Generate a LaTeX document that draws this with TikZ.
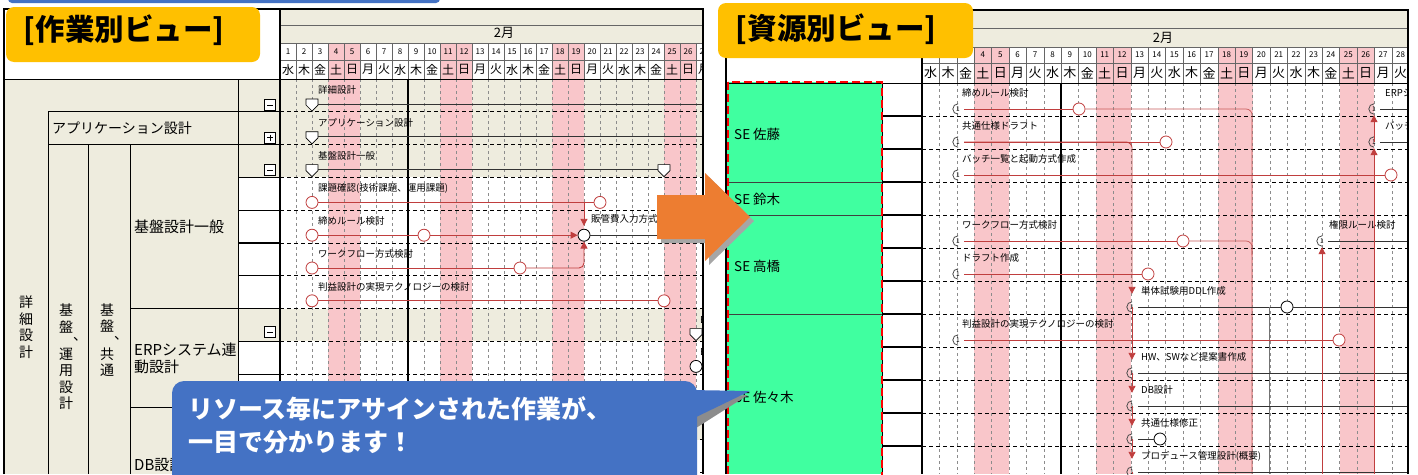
\documentclass[tikz,border=0pt]{standalone}
\usepackage{fontspec}
\setmainfont{Noto Sans CJK JP}
\usetikzlibrary{arrows.meta,calc}
\definecolor{cream}{RGB}{238,236,222}
\definecolor{pinkc}{RGB}{249,198,202}
\definecolor{barred}{RGB}{192,62,62}
\definecolor{lblorange}{RGB}{255,192,0}
\definecolor{arrorange}{RGB}{237,125,49}
\definecolor{callblue}{RGB}{68,114,196}
\definecolor{resgreen}{RGB}{64,255,160}
\newcommand{\smark}[1]{\draw[fill=white,line width=0.7pt,shift={(#1)}] (-6,-5) -- (6,-5) -- (6,1) -- (0,7) -- (-6,1) -- cycle;}
\newcommand{\vcomma}{\makebox[0pt][l]{\raisebox{-8pt}{、}}}
\def\wdlist{1/水,2/木,3/金,4/土,5/日,6/月,7/火,8/水,9/木,10/金,11/土,12/日,13/月,14/火,15/水,16/木,17/金,18/土,19/日,20/月,21/火,22/水,23/木,24/金,25/土,26/日,27/月,28/火}
\tikzset{
  lbl/.style={anchor=west, inner sep=0pt, font=\fontsize{9.5}{10}\selectfont},
  redc/.style={circle, draw=barred, fill=white, line width=0.8pt, minimum size=12pt, inner sep=0pt},
  blkc/.style={circle, draw=black, fill=white, line width=0.8pt, minimum size=12pt, inner sep=0pt},
  startr/.style={circle, minimum size=12pt, inner sep=0pt, font=\fontsize{6.5}{6.5}\selectfont,
    path picture={\clip (path picture bounding box.south west) rectangle (path picture bounding box.north);
      \draw[black!70, line width=0.8pt] (path picture bounding box.center) circle[radius=5.2pt];}},
  rbar/.style={barred, line width=0.9pt},
  kbar/.style={black!80, line width=0.9pt},
  conn/.style={barred, line width=0.9pt, -{Triangle[width=7pt,length=7pt]}},
  rowdash/.style={black, line width=0.7pt, dash pattern=on 4pt off 3pt},
  daydash/.style={black!45, line width=0.4pt, dash pattern=on 3pt off 3pt},
  hdrline/.style={black!60, line width=0.5pt},
  dnum/.style={inner sep=0pt, font=\fontsize{8}{8}\selectfont},
  wd/.style={inner sep=0pt, font=\fontsize{12}{12}\selectfont},
  vt/.style={align=center, inner sep=0pt, font=\fontsize{14}{16.5}\selectfont},
  side/.style={anchor=west, inner sep=0pt, font=\fontsize{14}{18}\selectfont},
  sename/.style={anchor=west, inner sep=0pt, font=\fontsize{13.5}{16}\selectfont},
  expm/.style={draw, fill=white, line width=0.6pt, minimum size=11pt, inner sep=0pt,
    path picture={\draw[line width=0.7pt] ([xshift=2.5pt]path picture bounding box.west) -- ([xshift=-2.5pt]path picture bounding box.east);}},
  expp/.style={draw, fill=white, line width=0.6pt, minimum size=11pt, inner sep=0pt,
    path picture={\draw[line width=0.7pt] ([xshift=2.5pt]path picture bounding box.west) -- ([xshift=-2.5pt]path picture bounding box.east);
      \draw[line width=0.7pt] ([yshift=-2.5pt]path picture bounding box.north) -- ([yshift=2.5pt]path picture bounding box.south);}},
  titbox/.style={fill=lblorange, rounded corners=8pt},
  tittext/.style={inner sep=0pt, font=\fontsize{29.5}{30}\bfseries},
}
\begin{document}
\begin{tikzpicture}[x=1pt,y=-1pt]
\useasboundingbox (0,0) rectangle (1418,474);
\fill[white] (0,0) rectangle (1418,474);
% top blue bar
\fill[callblue, rounded corners=4pt] (8,-12) rectangle (440,3);

% ================= LEFT VIEW =================
\fill[cream] (280,9) rectangle (703,43);
\fill[cream] (4,79) rectangle (238,474);
\foreach \k in {0,1,2,7,10} \fill[cream] (238,{79+32.8*\k}) rectangle (703,{79+32.8*(\k+1)});
\begin{scope}
\clip (280,9) rectangle (703,474);
\foreach \d in {4,5,11,12,18,19,25,26} \fill[pinkc] ({280+16*(\d-1)},43) rectangle ({280+16*\d},474);
\foreach \k in {1,...,26} \draw[daydash] ({280+16*\k},79) -- ({280+16*\k},474);
\foreach \k in {1,...,26} \draw[hdrline] ({280+16*\k},43) -- ({280+16*\k},79);
\draw[hdrline] (280,25) -- (703,25) (280,43) -- (703,43) (280,60) -- (703,60);
\foreach \k in {1,...,12} \draw[rowdash] (280,{79+32.8*\k}) -- (703,{79+32.8*\k});
\draw[line width=1.5pt] (408,79) -- (408,474);
\node[font=\fontsize{13}{13}\selectfont, inner sep=0pt] (monL) at (504,33) {2月};
\foreach \d in {1,...,27} \node[dnum] at ({280+16*(\d-0.5)},51.5) {\d};
\foreach \d/\w in \wdlist \node[wd] at ({280+16*(\d-0.5)},69.5) {\w};
% row 0
\coordinate (m0) at (312,104); \coordinate (xl0) at (703,104);
\draw[kbar] (m0) -- (xl0); \smark{m0}
\node[lbl] (tl0) at (318,90) {詳細設計};
% row 1
\coordinate (m1) at (312,136.8); \coordinate (xl1) at (703,136.8);
\draw[kbar] (m1) -- (xl1); \smark{m1}
\node[lbl] (tl1) at (318,122.8) {アプリケーション設計};
% row 2
\coordinate (m2) at (312,169.6); \coordinate (m2e) at (664,169.6);
\draw[kbar] (m2) -- (m2e); \smark{m2} \smark{m2e}
\node[lbl] (tl2) at (318,155.6) {基盤設計一般};
% row 3
\node[lbl] (tl3) at (318,188.4) {課題確認(技術課題、運用課題)};
\node[redc] (a3s) at (312,202.4) {};
\node[redc] (a3e) at (600,202.4) {};
\draw[rbar] (a3s) -- (a3e);
% row 4
\node[lbl] (tl4) at (318,221.2) {締めルール検討};
\node[redc] (a4s) at (312,235.2) {};
\node[redc] (a4e) at (424,235.2) {};
\node[blkc] (ms1) at (584,235.2) {};
\coordinate (xl4) at (703,235.2);
\draw[rbar] (a4s) -- (a4e);
\draw[conn] (a4e) -- (ms1);
\draw[conn, shorten >=3pt] (a3s -| ms1) -- (ms1.north);
\draw[kbar] (ms1) -- (xl4);
\node[lbl] (tl4b) at (591,219) {販管費入力方式};
% row 5
\node[lbl] (tl5) at (318,254) {ワークフロー方式検討};
\node[redc] (a5s) at (312,268) {};
\node[redc] (a5e) at (520,268) {};
\draw[rbar] (a5s) -- (a5e);
\draw[conn, rounded corners=5pt] (a5e.east) -- (ms1 |- a5e) -- (ms1.south);
% row 6
\node[lbl] (tl6) at (318,286.8) {判益設計の実現テクノロジーの検討};
\node[redc] (a6s) at (312,300.8) {};
\node[redc] (a6e) at (664,300.8) {};
\draw[rbar] (a6s) -- (a6e);
% row 7, 8
\coordinate (m7) at (696,333.6); \smark{m7}
\node[lbl] (tl7) at (700,319.6) {ERP};
\node[blkc] (ms8) at (696,366.4) {};
\node[lbl] (tl8) at (700,352.4) {ERP};
\end{scope}
% left label grid
\draw[line width=0.8pt] (48,111.8) -- (48,474) (88,144.6) -- (88,474) (130,144.6) -- (130,474) (238,79) -- (238,474);
\draw[line width=0.8pt] (48,111.8) -- (280,111.8) (48,144.6) -- (280,144.6) (130,308.6) -- (280,308.6) (130,407) -- (280,407);
\foreach \k in {1,...,12} \draw[line width=1.2pt] (238,{79+32.8*\k}) -- (280,{79+32.8*\k});
\draw[line width=1pt] (4,79) -- (703,79);
\draw[line width=1.3pt] (280,9) -- (280,474);
\draw[line width=1.5pt] (4,474) -- (4,9) -- (703,9) -- (703,474);
\node[expm] (bx0) at (270,105) {};
\node[expp] (bx1) at (270,137.5) {};
\node[expm] (bx2) at (270,170) {};
\node[expm] (bx7) at (270,332) {};
\node[side] (sl1) at (52,128.2) {アプリケーション設計};
\node[side, font=\fontsize{15}{18}\selectfont] (sl2) at (134,227) {基盤設計一般};
\node[side, align=left, font=\fontsize{15}{17}\selectfont] (sl3) at (134,358) {ERPシステム連\\動設計};
\node[side, font=\fontsize{15}{18}\selectfont] (sl4) at (134,465) {DB設計};
\node[vt] (vc1) at (26,327) {詳\\細\\設\\計};
\node[vt] (vc2) at (66,357) {基\\盤\vcomma\\[6pt]運\\用\\設\\計};
\node[vt] (vc3) at (107,340) {基\\盤\vcomma\\[6pt]共\\通};

% ================= RIGHT VIEW =================
\fill[cream] (922,10) rectangle (1408,47);
\fill[resgreen] (727,82) rectangle (882,474);
\begin{scope}
\clip (922,10) rectangle (1408,474);
\foreach \d in {4,5,11,12,18,19,25,26} \fill[pinkc] ({922+17.4*(\d-1)},47) rectangle ({922+17.4*\d},474);
\foreach \k in {1,...,27} \draw[daydash] ({922+17.4*\k},83) -- ({922+17.4*\k},474);
\foreach \k in {1,...,27} \draw[hdrline] ({922+17.4*\k},47) -- ({922+17.4*\k},83);
\draw[hdrline] (922,28) -- (1408,28) (922,47) -- (1408,47) (922,63) -- (1408,63);
\foreach \k in {1,...,12} \draw[rowdash] (922,{83+33*\k}) -- (1408,{83+33*\k});
\draw[line width=1.5pt] (1061,83) -- (1061,474);
\node[font=\fontsize{13}{13}\selectfont, inner sep=0pt] (monR) at (1163,38) {2月};
\foreach \d in {1,...,28} \node[dnum] at ({922+17.4*(\d-0.5)},55) {\d};
\foreach \d/\w in \wdlist \node[wd, font=\fontsize{13}{13}\selectfont] at ({922+17.4*(\d-0.5)},73) {\w};
% coordinates of free ends
\coordinate (v1b) at (1132,474);
\coordinate (v2b) at (1252,474);
\coordinate (v3b) at (1374,474);
\coordinate (v4b) at (1322,474);
\coordinate (v5b) at (1269,474);
% row 0
\node[lbl] (r0t) at (962,93) {締めルール検討};
\node[startr] (s0) at (958,109) {1};
\node[redc] (e0) at (1079,109) {};
\draw[rbar] (s0.east) -- (e0);
\draw[barred!85, line width=0.7pt, rounded corners=6pt] (e0.east) -- (v2b |- e0) -- (v2b);
\node[lbl] (r0bt) at (1385,93) {ERPシ};
\node[startr] (s0b) at (1374,109) {1};
\coordinate (x0b) at (1408,109);
\draw[kbar] (s0b.east) -- (x0b);
% row 1
\node[lbl] (r1t) at (962,126) {共通仕様ドラフト};
\node[startr] (s1) at (958,142) {1};
\node[redc] (e1) at (1166,142) {};
\draw[rbar] (s1.east) -- (e1);
\node[lbl] (r1bt) at (1385,126) {バッチ};
\node[startr] (s1b) at (1374,142) {1};
\coordinate (x1b) at (1408,142);
\draw[kbar] (s1b.east) -- (x1b);
% row 2
\node[lbl] (r2t) at (962,159) {バッチ一覧と起動方式作成};
\node[startr] (s2) at (958,175) {1};
\node[redc] (e2) at (1391,175) {};
\draw[rbar] (s2.east) -- (e2);
% row 4
\node[lbl] (r4t) at (962,225) {ワークフロー方式検討};
\node[startr] (s4) at (958,241) {1};
\node[redc] (e4) at (1183,241) {};
\draw[rbar] (s4.east) -- (e4);
\draw[barred!85, line width=0.7pt, rounded corners=6pt] (e4.east) -- (v2b |- e4) -- ($(v2b |- e4)+(0,14)$);
\node[lbl] (r4bt) at (1329,225) {権限ルール検討};
\node[startr] (s4b) at (1322,241) {1};
\coordinate (x4b) at (1408,241);
\draw[kbar] (s4b.east) -- (x4b);
% row 5
\node[lbl] (r5t) at (962,258) {ドラフト作成};
\node[startr] (s5) at (958,274) {1};
\node[redc] (e5) at (1148,274) {};
\draw[rbar] (s5.east) -- (e5);
% row 6
\node[lbl] (r6t) at (1141,291) {単体試験用DDL作成};
\node[startr] (s6) at (1132,307) {1};
\node[blkc] (m6) at (1287,307) {};
\coordinate (x6) at (1408,307);
\draw[kbar] (s6.east) -- (m6);
\draw[kbar] (m6) -- (x6);
\draw[black!55, line width=0.8pt] (v5b |- s6) -- (v5b);
% row 7
\node[lbl] (r7t) at (962,324) {判益設計の実現テクノロジーの検討};
\node[startr] (s7) at (958,340) {1};
\node[redc] (e7) at (1339,340) {};
\draw[rbar] (s7.east) -- (e7);
% row 8-11
\node[lbl] (r8t) at (1141,357) {HW、SWなど提案書作成};
\node[startr] (s8) at (1132,373) {1};
\coordinate (x8) at (1408,373);
\draw[kbar] (s8.east) -- (x8);
\node[lbl] (r9t) at (1141,390) {DB設計};
\node[startr] (s9) at (1132,406) {1};
\coordinate (x9) at (1408,406);
\draw[kbar] (s9.east) -- (x9);
\node[lbl] (r10t) at (1141,423) {共通仕様修正};
\node[startr] (s10) at (1132,439) {1};
\node[blkc] (m10) at (1160,439) {};
\draw[kbar] (s10.east) -- (m10);
\node[lbl] (r11t) at (1141,456) {プロデュース管理設計(概要)};
\node[startr] (s11) at (1132,472) {1};
\coordinate (x11) at (1408,472);
\draw[kbar] (s11.east) -- (x11);
% vertical connectors
\draw[conn, rounded corners=6pt, shorten >=7pt] (s1.east) -- (s1 -| s6) -- (s6.north);
\draw[conn, shorten >=7pt] (s6.center) -- (s8.north);
\draw[conn, shorten >=7pt] (s8.center) -- (s9.north);
\draw[conn, shorten >=7pt] (s9.center) -- (s10.north);
\draw[conn, shorten >=7pt] (s10.center) -- (s11.north);
\draw[rbar] (s11.center) -- (v1b);
\draw[conn] (v3b) -- (s1b.south);
\draw[conn] (s1b.center) -- (s0b.south);
\draw[conn] (v4b) -- (s4b.south);
\end{scope}
% right label column
\foreach \k in {1,...,12} \draw[line width=1.2pt] (882,{83+33*\k}) -- (922,{83+33*\k});
\draw[black!75, line width=1pt] (727,182) -- (882,182) (727,215) -- (882,215) (727,314) -- (882,314);
\draw[line width=1pt] (726,83) -- (1408,83);
\draw[line width=1pt] (882,83) -- (882,474);
\draw[line width=1.3pt] (922,10) -- (922,474);
\draw[line width=1.5pt] (726,474) -- (726,10) -- (1408,10) -- (1408,474);
\draw[red, line width=2.6pt, dash pattern=on 8pt off 4pt] (728,82) rectangle (882,480);
\node[sename] (se1) at (734,134) {SE 佐藤};
\node[sename] (se2) at (734,199) {SE 鈴木};
\node[sename] (se3) at (734,266) {SE 高橋};
\node[sename] (se4) at (734,397) {SE 佐々木};

% ================= OVERLAYS =================
\fill[titbox] (6,7) rectangle (260,62);
\node[tittext] (titL) at (124,30) {[作業別ビュー]};
\fill[titbox] (718,3) rectangle (973,58);
\node[tittext] (titR) at (836,29) {[資源別ビュー]};
% orange arrow
\fill[black!35] (661,199) -- (709,199) -- (709,177) -- (754,221) -- (709,265) -- (709,243) -- (661,243) -- cycle;
\fill[arrorange] (657,195) -- (705,195) -- (705,173) -- (750,217) -- (705,261) -- (705,239) -- (657,239) -- cycle;
% callout
\fill[black!45] (690,398) -- (748,395) -- (696,428) -- cycle;
\fill[callblue] (690,390) -- (750,391) -- (690,420) -- cycle;
\fill[callblue, rounded corners=12pt] (172,381) rectangle (697,495);
\node[anchor=west, align=left, text=white, inner sep=0pt, font=\fontsize{25}{33}\bfseries] (callt) at (188,425) {リソース毎にアサインされた作業が、\\一目で分かります！};
\end{tikzpicture}
\end{document}
